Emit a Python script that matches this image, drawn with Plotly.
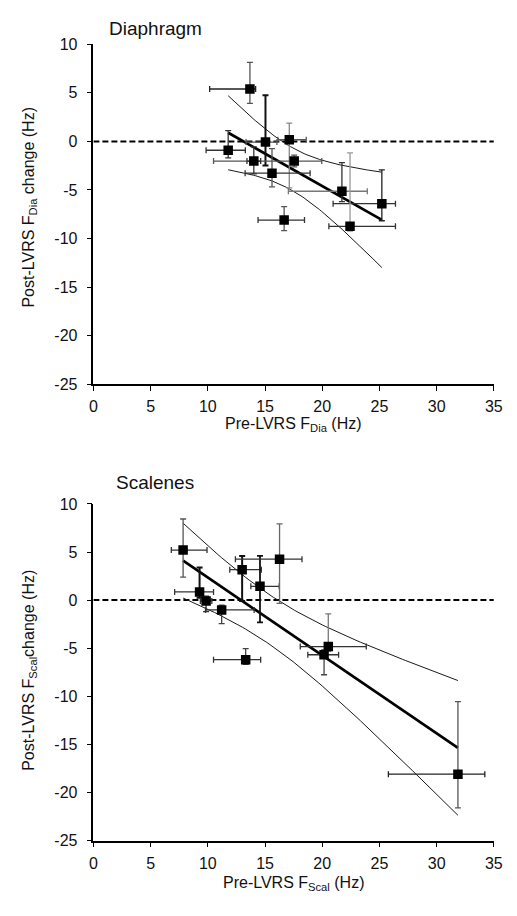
import numpy as np
import plotly.graph_objects as go

# ---- Diaphragm: pre-LVRS frequency vs post-LVRS change (Hz) ----
dia_pre = [13.68, 11.78, 15.04, 17.12, 17.55, 14.02, 15.61, 16.67, 21.72, 25.21, 22.43]
dia_chg = [5.40, -0.91, -0.07, 0.17, -2.02, -2.02, -3.27, -8.10, -5.13, -6.41, -8.74]
dia_pre_err_lo = [3.52, 1.93, 1.70, 1.00, 7.05, 0.60, 2.35, 2.28, 4.68, 4.26, 1.85]
dia_pre_err_hi = [0.50, 1.50, 1.00, 1.48, 2.41, 0.60, 3.33, 1.78, 2.22, 1.19, 3.97]
dia_chg_err_lo = [1.49, 0.78, 2.40, 4.96, 0.60, 1.32, 1.42, 1.08, 1.07, 1.76, 0.50]
dia_chg_err_hi = [2.73, 2.02, 4.83, 1.72, 0.60, 1.45, 2.53, 1.39, 2.94, 3.47, 7.56]

# ---- Scalenes ----
sca_pre = [7.84, 9.28, 9.85, 11.21, 13.00, 14.56, 16.27, 13.31, 20.53, 20.16, 31.86]
sca_chg = [5.20, 0.85, -0.10, -1.02, 3.16, 1.43, 4.25, -6.19, -4.83, -5.68, -18.10]
sca_pre_err_lo = [1.03, 2.18, 0.50, 1.41, 1.08, 0.80, 3.86, 2.81, 2.45, 1.42, 6.08]
sca_pre_err_hi = [2.09, 1.22, 0.50, 2.84, 1.68, 1.68, 1.96, 1.31, 3.32, 1.27, 2.35]
sca_chg_err_lo = [2.82, 0.60, 1.09, 1.43, 3.26, 3.75, 4.60, 0.50, 0.50, 2.08, 3.50]
sca_chg_err_hi = [3.23, 2.55, 0.50, 0.50, 1.43, 3.16, 3.67, 1.15, 3.40, 0.50, 7.55]

x_ticks = [0, 5, 10, 15, 20, 25, 30, 35]
y_ticks = [10, 5, 0, -5, -10, -15, -20, -25]
x_tick_text = ["0", "5", "10", "15", "20", "25", "30", "35"]
y_tick_text = ["10", "5", "0", "-5", "-10", "-15", "-20", "-25"]

T_975_DF9 = 2.262  # two-sided 95% t quantile, n - 2 = 9 degrees of freedom

# per-subject error-bar shading (x bar colour, y bar colour, y bar width)
dia_bar_style = [("#222", "#555", 1.3), ("#333", "#333", 1.3), ("#555", "#111", 2.0),
                 ("#555", "#888", 1.3), ("#555", "#555", 1.3), ("#333", "#333", 1.3),
                 ("#333", "#555", 1.3), ("#333", "#555", 1.3), ("#777", "#333", 1.3),
                 ("#333", "#222", 1.3), ("#333", "#999", 1.3)]
sca_bar_style = [("#333", "#555", 1.3), ("#333", "#111", 2.0), ("#333", "#333", 1.3),
                 ("#333", "#444", 1.3), ("#333", "#111", 2.0), ("#333", "#111", 1.8),
                 ("#333", "#666", 1.3), ("#333", "#444", 1.3), ("#333", "#777", 1.3),
                 ("#333", "#444", 1.3), ("#222", "#555", 1.3)]

W, H = 517, 916
FONT = "Liberation Sans, Arial, sans-serif"
INK = "#111111"


def regression_with_band(x, y, t):
    """OLS line and 95% confidence band of the mean response."""
    x = np.asarray(x, float)
    y = np.asarray(y, float)
    n = len(x)
    slope, icpt = np.polyfit(x, y, 1)
    resid = y - (icpt + slope * x)
    s = np.sqrt(np.sum(resid ** 2) / (n - 2))
    xm = x.mean()
    sxx = np.sum((x - xm) ** 2)
    xs = np.linspace(x.min(), x.max(), 80)
    yhat = icpt + slope * xs
    half = t * s * np.sqrt(1.0 / n + (xs - xm) ** 2 / sxx)
    return xs, yhat, yhat - half, yhat + half


fig = go.Figure()

panels = [
    ("x", "y", dia_pre, dia_chg, dia_pre_err_lo, dia_pre_err_hi,
     dia_chg_err_lo, dia_chg_err_hi, dia_bar_style),
    ("x2", "y2", sca_pre, sca_chg, sca_pre_err_lo, sca_pre_err_hi,
     sca_chg_err_lo, sca_chg_err_hi, sca_bar_style),
]

for xa, ya, px, py, exl, exh, eyl, eyh, styles in panels:
    # zero-change reference line
    fig.add_shape(type="line", xref=xa, yref=ya, x0=0, x1=35, y0=0, y1=0,
                  line=dict(color="#000000", width=2, dash="6px,3px"), layer="below")

    xs, yhat, lo, hi = regression_with_band(px, py, T_975_DF9)
    for band in (lo, hi):
        fig.add_trace(go.Scatter(x=xs, y=band, mode="lines", xaxis=xa, yaxis=ya,
                                 line=dict(color="#1a1a1a", width=1), showlegend=False,
                                 hoverinfo="skip"))
    fig.add_trace(go.Scatter(x=xs, y=yhat, mode="lines", xaxis=xa, yaxis=ya,
                             line=dict(color="#000000", width=2.7), showlegend=False,
                             hoverinfo="skip"))

    # error bars, one subject at a time so each keeps its own shade
    for i, (cx, cy, wy) in enumerate(styles):
        fig.add_trace(go.Scatter(
            x=[px[i]], y=[py[i]], mode="markers", xaxis=xa, yaxis=ya, showlegend=False,
            marker=dict(size=1, color="rgba(0,0,0,0)"), hoverinfo="skip",
            error_x=dict(type="data", symmetric=False, array=[exh[i]], arrayminus=[exl[i]],
                         color=cx, thickness=1.3, width=3),
            error_y=dict(type="data", symmetric=False, array=[eyh[i]], arrayminus=[eyl[i]],
                         color=cy, thickness=wy, width=3),
        ))

    fig.add_trace(go.Scatter(
        x=px, y=py, mode="markers", xaxis=xa, yaxis=ya, showlegend=False,
        marker=dict(symbol="square", size=9.5, color="#000000"),
    ))

x_dom = [91.7 / W, 502.5 / W]
top_dom = [(H - 383.3) / H, (H - 37.0) / H]
bot_dom = [(H - 848.3) / H, (H - 505.3) / H]

axis_common = dict(
    showgrid=False, zeroline=False, showline=True, linecolor="#000000", linewidth=1.5,
    ticks="outside", tickcolor="#000000", tickwidth=1.2, ticklen=5,
    tickfont=dict(family=FONT, size=16, color=INK),
)
xaxis_style = dict(range=[0, 35], tickvals=x_ticks, ticktext=x_tick_text,
                   ticklabelstandoff=2, **axis_common)
yaxis_style = dict(range=[-25, 10], tickvals=y_ticks, ticktext=y_tick_text,
                   ticklabelstandoff=6, **axis_common)

fig.update_layout(
    width=W, height=H,
    margin=dict(l=0, r=0, t=0, b=0),
    paper_bgcolor="#ffffff", plot_bgcolor="#ffffff",
    font=dict(family=FONT, color=INK),
    xaxis=dict(domain=x_dom, anchor="y", **xaxis_style),
    yaxis=dict(domain=top_dom, anchor="x", **yaxis_style),
    xaxis2=dict(domain=x_dom, anchor="y2", **xaxis_style),
    yaxis2=dict(domain=bot_dom, anchor="x2", **yaxis_style),
)

ann = [
    dict(text="Diaphragm", x=106 / W, y=1 - 21 / H, xanchor="left", yanchor="middle",
         font=dict(size=19)),
    dict(text="Scalenes", x=113 / W, y=1 - 483 / H, xanchor="left", yanchor="middle",
         font=dict(size=19)),
    dict(text="Pre-LVRS F<sub>Dia</sub> (Hz)", x=297 / W, y=1 - 424 / H,
         xanchor="center", yanchor="middle", font=dict(size=16)),
    dict(text="Pre-LVRS F<sub>Scal</sub> (Hz)", x=297 / W, y=1 - 892 / H,
         xanchor="center", yanchor="middle", font=dict(size=16)),
    dict(text="Post-LVRS F<sub>Dia</sub> change (Hz)", x=26 / W, y=1 - 203 / H,
         xanchor="center", yanchor="middle", textangle=-90, font=dict(size=16)),
    dict(text="Post-LVRS F<sub>Scal</sub>change (Hz)", x=26 / W, y=1 - 675 / H,
         xanchor="center", yanchor="middle", textangle=-90, font=dict(size=16)),
]
for a in ann:
    a.update(xref="paper", yref="paper", showarrow=False)
    a["font"] = dict(family=FONT, color=INK, **a["font"])
fig.update_layout(annotations=ann)

fig.write_html("out.html")
